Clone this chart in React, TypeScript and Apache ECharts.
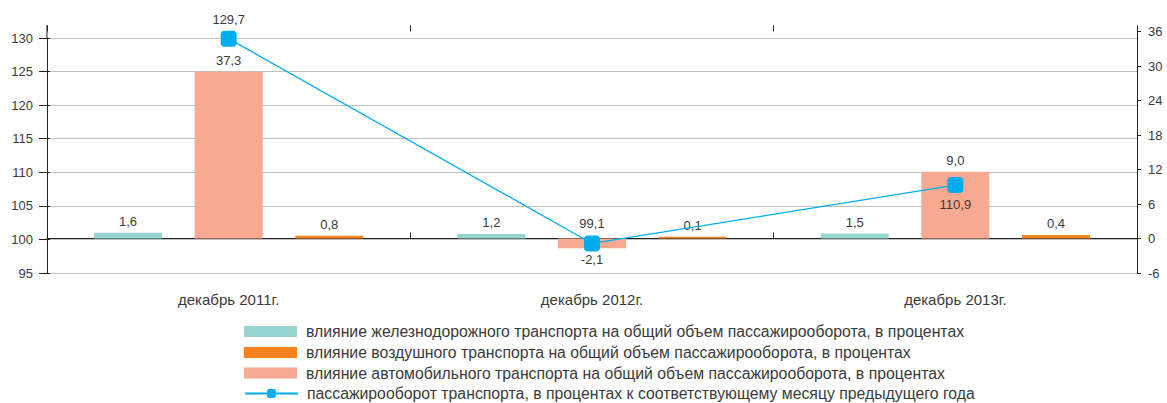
import React, { useEffect, useRef } from "react";
import * as echarts from "echarts";

// Categories
const categories = ["декабрь 2011г.", "декабрь 2012г.", "декабрь 2013г."];

// Series names
const railName = "влияние железнодорожного транспорта на общий объем пассажирооборота, в процентах";
const airName = "влияние воздушного транспорта на общий объем пассажирооборота, в процентах";
const autoName = "влияние автомобильного транспорта на общий объем пассажирооборота, в процентах";
const lineName = "пассажирооборот транспорта, в процентах к соответствующему месяцу предыдущего года";

// Printed values (labels)
const railLabels = ["1,6", "1,2", "1,5"];
const autoLabels = ["37,3", "-2,1", "9,0"];
const airLabels = ["0,8", "0,1", "0,4"];
const lineLabels = ["129,7", "99,1", "110,9"];

// Heights as drawn in the picture (right axis units for bars, left axis units for line)
const railValues = [1.0, 0.8, 0.85];
const autoValues = [29.0, -1.7, 11.6];
const airValues = [0.5, 0.3, 0.6];
const lineValues = [129.9, 99.4, 108.1];
const lineLabelPos = ["top", "top", "bottom"];

// Axis ticks
const leftMin = 95, leftMax = 130, leftStep = 5;
const rightMin = -6, rightMax = 36, rightStep = 6;

// Legend order
const legendItems = [railName, airName, autoName, lineName];

const FONT = "'Liberation Sans', Arial, sans-serif";
const TXT = "#3a3a3a";

export default function App() {
  const ref = useRef<HTMLDivElement>(null);
  useEffect(() => {
    if (!ref.current) return;
    const chart = echarts.init(ref.current, undefined, { renderer: "svg" });
    const barLabel = (arr: string[]) => ({
      show: true,
      position: "top",
      distance: 5,
      color: TXT,
      fontSize: 13,
      fontFamily: FONT,
      formatter: (p: any) => arr[p.dataIndex],
    });
    const legendTops = [323.5, 344.5, 365, 385.5];
    const option: any = {
      animation: false,
      textStyle: { fontFamily: FONT },
      grid: [
        { left: 47, right: 30, top: 38, bottom: 130 },
        { left: 47, right: 30, top: 31.5, bottom: 130 },
      ],
      legend: legendItems.map((name, i) => ({
        orient: "vertical",
        left: 244,
        top: legendTops[i],
        padding: 0,
        itemWidth: 53,
        itemHeight: 11,
        itemGap: 0,
        selectedMode: false,
        textStyle: {
          fontSize: 15.8,
          color: TXT,
          fontFamily: FONT,
          lineHeight: 15,
          padding: [0, 0, 0, 4],
        },
        data: [name === lineName ? { name } : { name, icon: "rect" }],
      })),
      xAxis: [
        {
          type: "category",
          gridIndex: 0,
          data: categories,
          position: "bottom",
          axisLine: { show: false, onZero: false },
          axisTick: { show: false },
          axisLabel: { margin: 19, fontSize: 15, color: TXT, fontFamily: FONT },
        },
        {
          type: "category",
          gridIndex: 1,
          data: categories,
          axisLine: { show: true, onZero: true, lineStyle: { color: "#222", width: 1 } },
          axisTick: { show: true, inside: true, length: 6, interval: 0, lineStyle: { color: "#222" } },
          axisLabel: { show: false },
        },
        {
          type: "category",
          gridIndex: 1,
          data: categories,
          axisLine: { show: false, onZero: true },
          axisTick: { show: true, inside: false, length: 6, interval: 0, lineStyle: { color: "#222" } },
          axisLabel: { show: false },
        },
      ],
      yAxis: [
        {
          type: "value",
          gridIndex: 0,
          position: "left",
          min: leftMin,
          max: leftMax,
          interval: leftStep,
          axisLine: { show: true, lineStyle: { color: "#222" } },
          axisTick: { show: true, length: 8, lineStyle: { color: "#222" } },
          axisLabel: { margin: 14, fontSize: 13, color: TXT, fontFamily: FONT },
          splitLine: { show: true, lineStyle: { color: "#bfbfbf", width: 1 } },
        },
        {
          type: "value",
          gridIndex: 1,
          position: "right",
          min: rightMin,
          max: rightMax,
          interval: rightStep,
          axisLine: { show: true, lineStyle: { color: "#222" } },
          axisTick: { show: true, length: 4, lineStyle: { color: "#222" } },
          axisLabel: { margin: 11, fontSize: 13, color: TXT, fontFamily: FONT },
          splitLine: { show: false },
        },
        {
          type: "value",
          gridIndex: 0,
          position: "left",
          min: leftMin,
          max: leftMax,
          interval: leftStep,
          axisLine: { show: false },
          axisTick: { show: true, inside: true, length: 3, lineStyle: { color: "#222" } },
          axisLabel: { show: false },
          splitLine: { show: false },
        },
      ],
      series: [
        {
          name: railName,
          type: "bar",
          xAxisIndex: 1,
          yAxisIndex: 1,
          data: railValues,
          barWidth: 68,
          barGap: "48%",
          itemStyle: { color: "#97d5d0" },
          label: barLabel(railLabels),
        },
        {
          name: autoName,
          type: "bar",
          xAxisIndex: 1,
          yAxisIndex: 1,
          data: autoValues.map((v) => ({
            value: v,
            label: v < 0 ? { position: "bottom" } : undefined,
          })),
          barWidth: 68,
          barGap: "48%",
          itemStyle: { color: "#f7aa8f" },
          label: barLabel(autoLabels),
        },
        {
          name: airName,
          type: "bar",
          xAxisIndex: 1,
          yAxisIndex: 1,
          data: airValues,
          barWidth: 68,
          barGap: "48%",
          itemStyle: { color: "#f5821f" },
          label: barLabel(airLabels),
        },
        {
          name: lineName,
          type: "line",
          xAxisIndex: 0,
          yAxisIndex: 0,
          z: 5,
          symbol: "roundRect",
          symbolSize: 16,
          itemStyle: { color: "#00aeef" },
          lineStyle: { color: "#00aeef", width: 1.3 },
          data: lineValues.map((v, i) => ({ value: v, label: { position: lineLabelPos[i] } })),
          label: {
            show: true,
            distance: 5,
            color: TXT,
            fontSize: 13,
            fontFamily: FONT,
            formatter: (p: any) => lineLabels[p.dataIndex],
          },
        },
      ],
      graphic: [
        {
          type: "line",
          shape: { x1: 47, y1: 25, x2: 47, y2: 38 },
          style: { stroke: "#222", lineWidth: 1 },
        },
      ],
    };
    chart.setOption(option);
    return () => chart.dispose();
  }, []);
  return (
    <div
      ref={ref}
      style={{ position: "fixed", left: 0, top: 0, width: 1167, height: 403, background: "#fff" }}
    />
  );
}
